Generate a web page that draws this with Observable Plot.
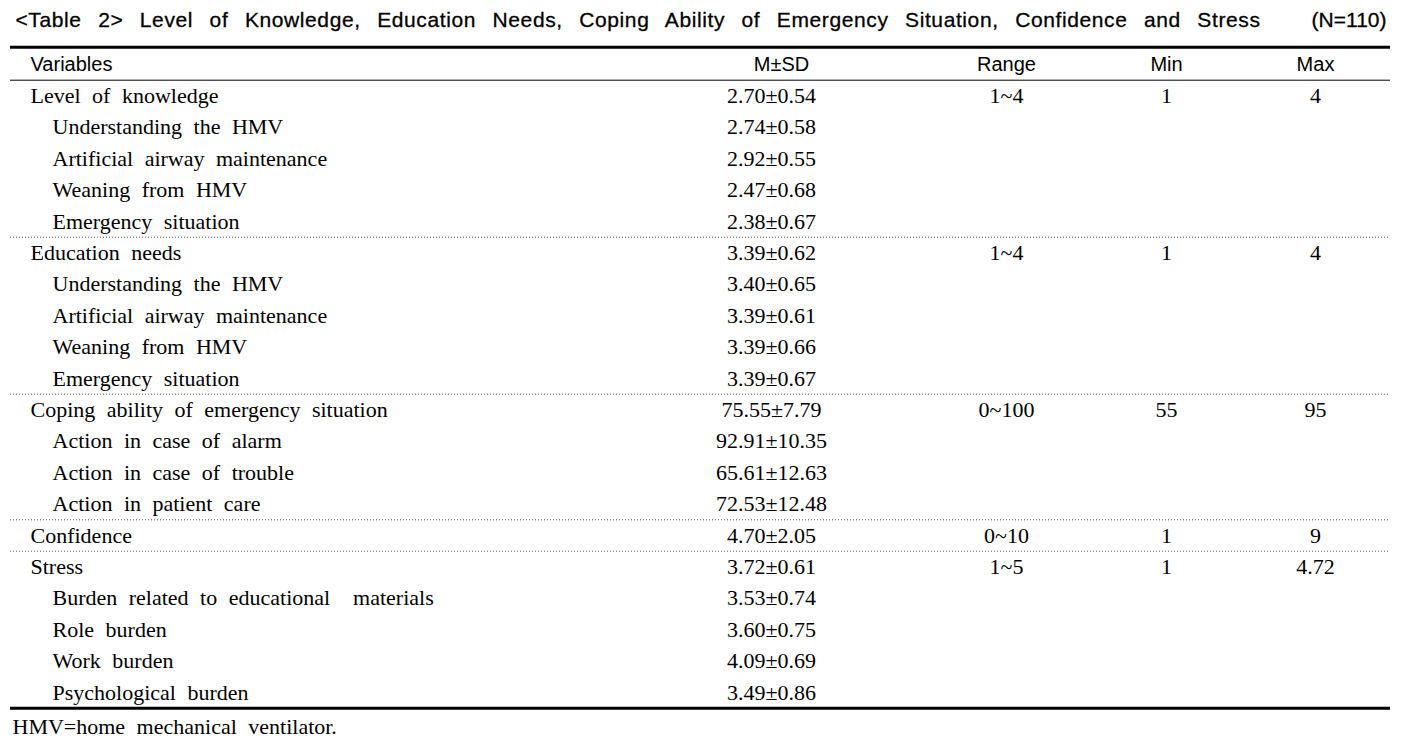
<!DOCTYPE html>
<html>
<head>
<meta charset="utf-8">
<script src="https://cdn.jsdelivr.net/npm/d3@7"></script>
<script src="https://cdn.jsdelivr.net/npm/@observablehq/plot@0.6"></script>
<style>
  html, body { margin: 0; padding: 0; background: #fff; }
  svg { display: block; }
</style>
</head>
<body>
<div id="chart"></div>
<script>
const titleText = "<Table 2> Level of Knowledge, Education Needs, Coping Ability of Emergency Situation, Confidence and Stress";
const nText = "(N=110)";
const headers = ["Variables", "M±SD", "Range", "Min", "Max"];
const variables = [
  "Level of knowledge", "Understanding the HMV", "Artificial airway maintenance", "Weaning from HMV", "Emergency situation",
  "Education needs", "Understanding the HMV", "Artificial airway maintenance", "Weaning from HMV", "Emergency situation",
  "Coping ability of emergency situation", "Action in case of alarm", "Action in case of trouble", "Action in patient care",
  "Confidence",
  "Stress", "Burden related to educational  materials", "Role burden", "Work burden", "Psychological burden"
];
const isSub = [0,1,1,1,1, 0,1,1,1,1, 0,1,1,1, 0, 0,1,1,1,1];
const means = ["2.70","2.74","2.92","2.47","2.38", "3.39","3.40","3.39","3.39","3.39", "75.55","92.91","65.61","72.53", "4.70", "3.72","3.53","3.60","4.09","3.49"];
const sds   = ["0.54","0.58","0.55","0.68","0.67", "0.62","0.65","0.61","0.66","0.67", "7.79","10.35","12.63","12.48", "2.05", "0.61","0.74","0.75","0.69","0.86"];
const ranges = ["1~4","","","","", "1~4","","","","", "0~100","","","", "0~10", "1~5","","","",""];
const mins   = ["1","","","","", "1","","","","", "55","","","", "1", "1","","","",""];
const maxs   = ["4","","","","", "4","","","","", "95","","","", "9", "4.72","","","",""];
const groupEnds = [4, 9, 13, 14]; // dotted separators after these rows
const footnote = "HMV=home mechanical ventilator.";

const rows = variables.map((v, i) => ({
  i, v, sub: isSub[i], msd: `${means[i]}±${sds[i]}`, range: ranges[i], min: mins[i], max: maxs[i]
}));

// layout
const W = 1410, H = 744;
const colX = {msd: 771, range: 1006, min: 1166, max: 1315};
const headX = [30, 781, 1006, 1166, 1315];
const left = 10, right = 1390;
const serif = "'Liberation Serif', 'Times New Roman', serif";
const sans = "'Liberation Sans', Arial, sans-serif";
const fs = 22;

const leftCells = rows.map(r => ({x: r.sub ? 52 : 30, y: r.i, t: r.v}));
const midCells = [];
for (const r of rows) {
  midCells.push({x: colX.msd, y: r.i, t: r.msd});
  if (r.range) midCells.push({x: colX.range, y: r.i, t: r.range});
  if (r.min) midCells.push({x: colX.min, y: r.i, t: r.min});
  if (r.max) midCells.push({x: colX.max, y: r.i, t: r.max});
}
const headCells = headers.map((h, k) => ({x: headX[k], y: -1, t: h}));

const chart = Plot.plot({
  width: W, height: H,
  margin: 0,
  x: {type: "linear", domain: [0, W], range: [0, W], axis: null},
  y: {type: "linear", domain: [-1, 19], range: [64, 692], axis: null},
  style: {background: "#fff", color: "#000"},
  marks: [
    // title
    Plot.text([titleText], {x: 15, y: -2.42, text: d => d, textAnchor: "start", fontFamily: sans, fontSize: 21, fill: "#000", stroke: "#000", strokeWidth: 0.3}),
    Plot.text([nText], {x: 1386, y: -2.42, text: d => d, textAnchor: "end", fontFamily: sans, fontSize: 21, fill: "#000", stroke: "#000", strokeWidth: 0.3}),
    // rules
    Plot.ruleY([-1.55], {x1: left, x2: right, stroke: "#000", strokeWidth: 3}),
    Plot.ruleY([-0.5], {x1: left, x2: right, stroke: "#000", strokeWidth: 1}),
    Plot.ruleY([19.5], {x1: left, x2: right, stroke: "#000", strokeWidth: 3}),
    Plot.ruleY(groupEnds.map(g => g + 0.5), {x1: left, x2: right, stroke: "#555", strokeWidth: 1, strokeDasharray: "1,2"}),
    // header
    Plot.text(headCells.slice(0, 1), {x: "x", y: "y", text: "t", textAnchor: "start", fontFamily: sans, fontSize: 20, fill: "#000"}),
    Plot.text(headCells.slice(1), {x: "x", y: "y", text: "t", textAnchor: "middle", fontFamily: sans, fontSize: 20, fill: "#000"}),
    // body
    Plot.text(leftCells, {x: "x", y: "y", text: "t", textAnchor: "start", fontFamily: serif, fontSize: fs, fill: "#000"}),
    Plot.text(midCells, {x: "x", y: "y", text: "t", textAnchor: "middle", fontFamily: serif, fontSize: fs, fill: "#000"}),
    // footnote
    Plot.text([footnote], {x: 12, y: 20.1, text: d => d, textAnchor: "start", fontFamily: serif, fontSize: fs, fill: "#000"})
  ]
});
document.getElementById("chart").appendChild(chart);

// widen word gaps like the original typesetting
const wideSet = new Set([...variables, footnote]);
d3.select(chart).selectAll("text").each(function () {
  const s = this.textContent;
  if (wideSet.has(s)) {
    this.style.wordSpacing = "6px";
  } else if (s === titleText) {
    this.style.letterSpacing = "0.6px";
    const natural = this.getComputedTextLength();
    const spaces = (titleText.match(/ /g) || []).length;
    const ws = Math.max(0, ((1260 - 15) - natural) / spaces);
    this.style.wordSpacing = ws + "px";
  }
});
</script>
</body>
</html>
